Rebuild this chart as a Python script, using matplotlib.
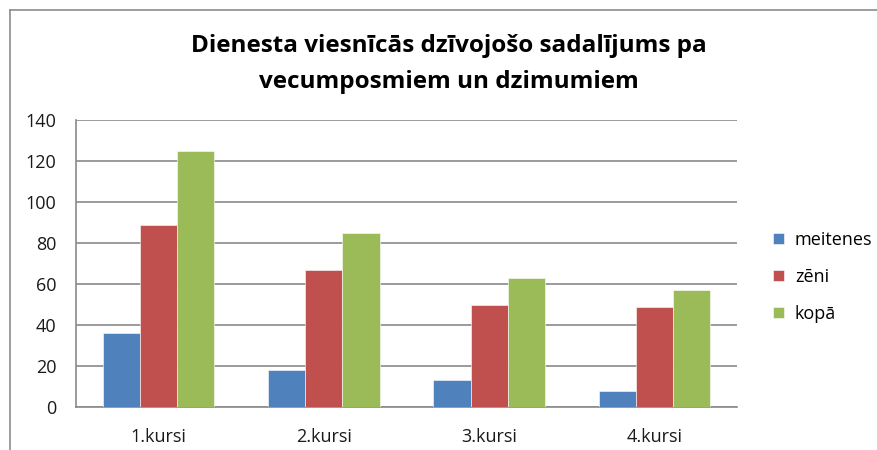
import numpy as np
import matplotlib.pyplot as plt
from matplotlib.lines import Line2D

categories = ["1.kursi", "2.kursi", "3.kursi", "4.kursi"]
meitenes = [36, 18, 13, 8]
zeni = [89, 67, 50, 49]
kopa = [125, 85, 63, 57]
series_names = ["meitenes", "zēni", "kopā"]
colors = ["#4F81BD", "#C0504D", "#9BBB59"]

plt.rcParams['font.family'] = ['Open Sans', 'DejaVu Sans']

W, H = 877, 450
fig = plt.figure(figsize=(W / 100, H / 100), dpi=100)

# chart frame (top and left edges visible)
fig.add_artist(Line2D([10 / W, 1], [1 - 10 / H, 1 - 10 / H], color="#8c8c8c", lw=1.2))
fig.add_artist(Line2D([10 / W, 10 / W], [0, 1 - 10 / H], color="#8c8c8c", lw=1.2))

ax = fig.add_axes([76 / W, 1 - 407 / H, (737 - 76) / W, (407 - 120) / H])

x = np.arange(len(categories))
w = 0.225
for i, (vals, name) in enumerate(zip([meitenes, zeni, kopa], series_names)):
    ax.bar(x + (i - 1) * w, vals, w, color=colors[i], label=name,
           edgecolor="white", linewidth=0.4, zorder=3)

ax.set_xlim(-0.5, len(categories) - 0.5)
ax.set_ylim(0, 140)
ax.set_yticks(range(0, 141, 20))
ax.set_xticks(x)
ax.set_xticklabels(categories)
ax.yaxis.grid(True, color="#8a8a8a", lw=1.2, zorder=0)
ax.tick_params(axis="both", length=0, labelsize=13, colors="#1a1a1a")
ax.tick_params(axis="y", pad=14)
ax.tick_params(axis="x", pad=15)
for s in ["top", "right"]:
    ax.spines[s].set_visible(False)
ax.spines["left"].set_color("#8a8a8a")
ax.spines["bottom"].set_color("#8a8a8a")
ax.spines["left"].set_linewidth(1.2)
ax.spines["bottom"].set_linewidth(1.2)

fig.text(449 / W, 1 - 64 / H, "Dienesta viesnīcās dzīvojošo sadalījums pa\nvecumposmiem un dzimumiem",
         ha="center", va="center", fontsize=17.5, fontweight="bold", linespacing=1.7)

ax.legend(loc="center left", bbox_to_anchor=(766 / W, 1 - 277 / H), bbox_transform=fig.transFigure,
          frameon=False, fontsize=13, handlelength=0.6, handleheight=0.6,
          labelspacing=1.05, handletextpad=0.6, borderaxespad=0)

fig.savefig("out.png", dpi=100)
